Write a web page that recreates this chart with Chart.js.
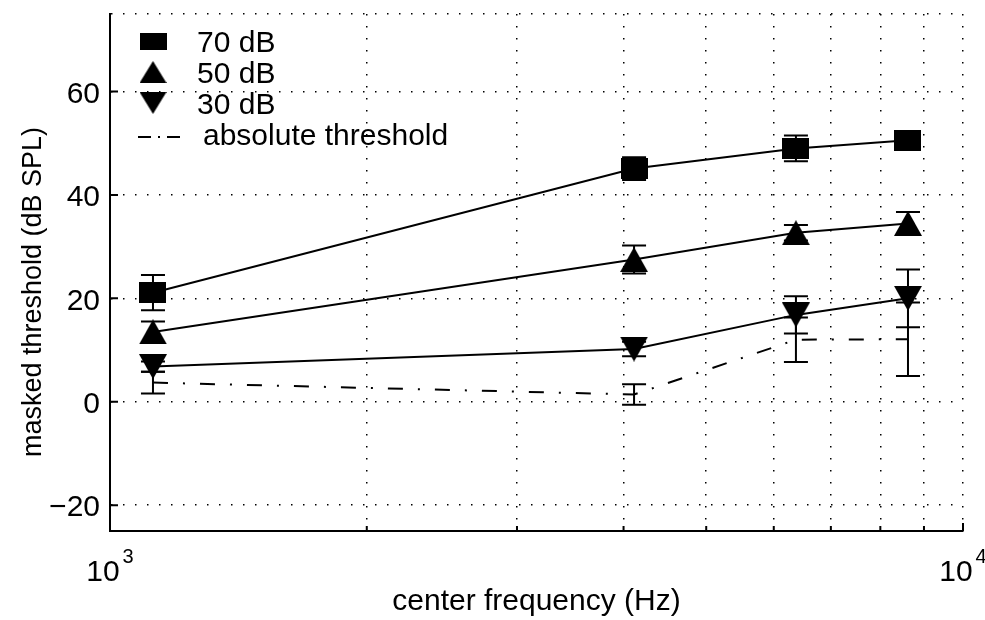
<!DOCTYPE html>
<html>
<head>
<meta charset="utf-8">
<script src="https://cdn.jsdelivr.net/npm/chart.js@4.4.0/dist/chart.umd.min.js"></script>
<style>
  html, body { margin: 0; padding: 0; background: #fff; }
</style>
</head>
<body>
<canvas id="maskChart" width="985" height="620"></canvas>
<script>
// center frequencies (Hz)
const freqs = [1123, 4115, 6370, 8620];

// masked thresholds (dB SPL) with error bar half-lengths
const mask70 = [21.1, 45.1, 49.0, 50.6];
const err70 = [3.4, 2.2, 2.5, 1.0];
const mask50 = [13.5, 27.5, 32.7, 34.5];
const err50 = [2.0, 2.7, 1.5, 2.2];
const mask30 = [6.8, 10.2, 16.8, 20.0];
const err30 = [1.0, 1.4, 3.6, 5.6];
const absThr = [3.7, 1.4, 12.0, 12.1];
const errAbs = [2.1, 2.0, 4.3, 7.1];

// axes
const yTicks = [-20, 0, 20, 40, 60];
const yMin = -25, yMax = 75;
const xMin = 1000, xMax = 10000;
const xGrid = [1000, 2000, 3000, 4000, 5000, 6000, 7000, 8000, 9000, 10000];
const xTickVals = [1000, 10000];
const xTickExp = ['3', '4'];

const FONT = '"Liberation Sans", Arial, Helvetica, sans-serif';

// filled black marker shapes
function marker(w, h, shape) {
    const c = document.createElement('canvas');
    c.width = w;
    c.height = h;
    const g = c.getContext('2d');
    g.fillStyle = '#000';
    g.beginPath();
    if (shape === 'square') {
        g.rect(0, 0, w, h);
    } else if (shape === 'up') {
        g.moveTo(w / 2, 0); g.lineTo(w, h); g.lineTo(0, h);
    } else {
        g.moveTo(0, 0); g.lineTo(w, 0); g.lineTo(w / 2, h);
    }
    g.closePath();
    g.fill();
    return c;
}

const plotMarkers = [marker(27, 21, 'square'), marker(28, 25, 'up'), marker(28, 25, 'down')];
const legendMarkers = [marker(27, 17, 'square'), marker(27, 22, 'up'), marker(27, 22, 'down')];

const toPoints = ys => freqs.map((f, i) => ({ x: f, y: ys[i] }));

// error bars drawn through the chart scales
const errorBars = {
    id: 'errorBars',
    beforeDatasetsDraw(chart) {
        const { ctx, scales: { x, y } } = chart;
        ctx.save();
        ctx.strokeStyle = '#000';
        ctx.lineWidth = 2;
        chart.data.datasets.forEach(ds => {
            ds.data.forEach((p, i) => {
                const px = x.getPixelForValue(p.x);
                const top = y.getPixelForValue(p.y + ds.errors[i]);
                const bot = y.getPixelForValue(p.y - ds.errors[i]);
                ctx.beginPath();
                ctx.moveTo(px, top); ctx.lineTo(px, bot);
                ctx.moveTo(px - 12, top); ctx.lineTo(px + 12, top);
                ctx.moveTo(px - 12, bot); ctx.lineTo(px + 12, bot);
                ctx.stroke();
            });
        });
        ctx.restore();
    }
};

// inward ticks, x tick labels, axis titles and legend
const decorations = {
    id: 'decorations',
    afterDraw(chart) {
        const { ctx, chartArea: area, scales: { x, y } } = chart;
        ctx.save();
        ctx.strokeStyle = '#000';
        ctx.fillStyle = '#000';
        ctx.lineWidth = 2;

        // inward ticks
        ctx.beginPath();
        yTicks.forEach(v => {
            const py = y.getPixelForValue(v);
            ctx.moveTo(area.left, py); ctx.lineTo(area.left + 8, py);
        });
        xGrid.forEach(v => {
            const px = x.getPixelForValue(v);
            const len = xTickVals.includes(v) ? 8 : 5;
            ctx.moveTo(px, area.bottom); ctx.lineTo(px, area.bottom - len);
        });
        ctx.stroke();

        // x tick labels 10^n
        xTickVals.forEach((v, i) => {
            const px = x.getPixelForValue(v);
            ctx.font = '30px ' + FONT;
            const wb = ctx.measureText('10').width;
            ctx.font = '20px ' + FONT;
            const we = ctx.measureText(xTickExp[i]).width;
            const left = px - (wb + 3 + we) / 2;
            ctx.textAlign = 'left';
            ctx.textBaseline = 'alphabetic';
            ctx.font = '30px ' + FONT;
            ctx.fillText('10', left, 581);
            ctx.font = '20px ' + FONT;
            ctx.fillText(xTickExp[i], left + wb + 3, 563);
        });

        // axis titles
        ctx.font = '30px ' + FONT;
        ctx.textAlign = 'center';
        ctx.fillText('center frequency (Hz)', (area.left + area.right) / 2, 610);
        ctx.save();
        ctx.translate(41, 292);
        ctx.rotate(-Math.PI / 2);
        ctx.font = '27px ' + FONT;
        ctx.fillText('masked threshold (dB SPL)', 0, 0);
        ctx.restore();

        // legend
        ctx.textAlign = 'left';
        ctx.font = '30px ' + FONT;
        chart.data.datasets.forEach((ds, i) => {
            const cy = 41 + i * 31;
            if (i < 3) {
                const m = legendMarkers[i];
                ctx.drawImage(m, 153 - m.width / 2, cy - m.height / 2);
                ctx.fillText(ds.label, 197, cy + 11);
            } else {
                ctx.save();
                ctx.setLineDash([13, 7, 2, 7]);
                ctx.beginPath();
                ctx.moveTo(138, cy + 3); ctx.lineTo(181, cy + 3);
                ctx.stroke();
                ctx.restore();
                ctx.fillText(ds.label, 203, cy + 11);
            }
        });
        ctx.restore();
    }
};

const ctx = document.getElementById('maskChart').getContext('2d');
new Chart(ctx, {
    type: 'line',
    data: {
        datasets: [
            { label: '70 dB', data: toPoints(mask70), errors: err70, pointStyle: plotMarkers[0] },
            { label: '50 dB', data: toPoints(mask50), errors: err50, pointStyle: plotMarkers[1] },
            { label: '30 dB', data: toPoints(mask30), errors: err30, pointStyle: plotMarkers[2] },
            { label: 'absolute threshold', data: toPoints(absThr), errors: errAbs,
              pointRadius: 0, borderDash: [15, 15, 2, 15] }
        ].map(ds => Object.assign({
            borderColor: '#000',
            backgroundColor: '#000',
            borderWidth: 2,
            tension: 0,
            fill: false
        }, ds))
    },
    options: {
        responsive: false,
        animation: false,
        events: [],
        layout: { padding: { top: 14, right: 22, left: 0, bottom: 0 } },
        plugins: {
            legend: { display: false },
            tooltip: { enabled: false }
        },
        scales: {
            x: {
                type: 'logarithmic',
                min: xMin,
                max: xMax,
                afterBuildTicks(scale) {
                    scale.ticks = xGrid.map(v => ({ value: v }));
                },
                ticks: { display: false },
                grid: { color: '#000', lineWidth: 1.5, drawTicks: false },
                border: { display: true, color: '#000', width: 2, dash: [1.5, 10.5] },
                afterFit(scale) {
                    scale.height = 89;
                    scale.paddingLeft = 0;
                    scale.paddingRight = 0;
                }
            },
            y: {
                min: yMin,
                max: yMax,
                afterBuildTicks(scale) {
                    scale.ticks = [yMin, ...yTicks, yMax].map(v => ({ value: v }));
                },
                ticks: {
                    color: '#000',
                    padding: 10,
                    labelOffset: 3,
                    font: { family: FONT, size: 30 },
                    callback: v => yTicks.includes(v) ? String(v).replace('-', '\u2212') : ''
                },
                grid: { color: '#000', lineWidth: 1.5, drawTicks: false },
                border: { display: true, color: '#000', width: 2, dash: [1.5, 10.5] },
                afterFit(scale) {
                    scale.width = 110;
                    scale.paddingTop = 0;
                    scale.paddingBottom = 0;
                }
            }
        }
    },
    plugins: [errorBars, decorations]
});
</script>
</body>
</html>
